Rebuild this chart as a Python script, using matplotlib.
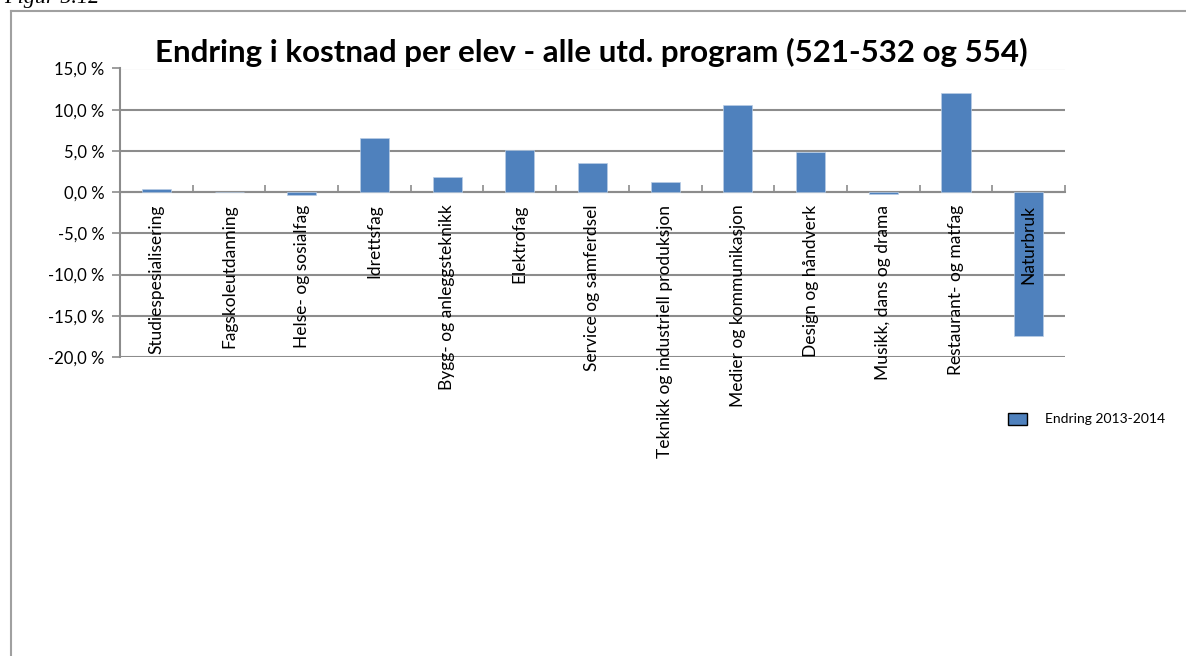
import matplotlib.pyplot as plt
import matplotlib.ticker as mticker
from matplotlib.patches import Patch
from matplotlib.lines import Line2D
import numpy as np

programs = ["Studiespesialisering", "Fagskoleutdanning", "Helse- og sosialfag",
            "Idrettsfag", "Bygg- og anleggsteknikk", "Elektrofag",
            "Service og samferdsel", "Teknikk og industriell produksjon",
            "Medier og kommunikasjon", "Design og håndverk",
            "Musikk, dans og drama", "Restaurant- og matfag", "Naturbruk"]
change = [0.4, 0.05, -0.3, 6.6, 1.8, 5.1, 3.5, 1.2, 10.6, 4.9, -0.2, 12.0, -17.4]
yticks = [-20, -15, -10, -5, 0, 5, 10, 15]

W, H = 1186, 656
plt.rcParams['font.family'] = ['Lato', 'DejaVu Sans']
fig = plt.figure(figsize=(W / 100, H / 100), dpi=100)
ax = fig.add_axes([120 / W, 1 - 357 / H, 945 / W, 288.5 / H])

grid = '#8c8c8c'
x = np.arange(len(programs))
ax.bar(x, change, width=0.4, color='#4f81bd', edgecolor='#b9cde5', linewidth=0.5,
       zorder=3)

ax.set_xlim(-0.5, len(programs) - 0.5)
ax.set_ylim(-20, 15)
ax.set_yticks(yticks)
ax.yaxis.set_major_formatter(mticker.FuncFormatter(lambda v, p: f"{v:.1f}".replace('.', ',') + " %"))
ax.grid(axis='y', color=grid, linewidth=1.5, zorder=0)
ax.tick_params(axis='y', length=6, width=1.2, color=grid, labelsize=12, pad=5)

ax.spines['bottom'].set_position(('data', 0))
for s in ['top', 'right']:
    ax.spines[s].set_visible(False)
for s in ['bottom', 'left']:
    ax.spines[s].set_color(grid)
    ax.spines[s].set_linewidth(1.5)
ax.set_xticks(x)
ax.set_xticklabels([])
ax.set_xticks(np.arange(len(programs)) + 0.5, minor=True)
ax.tick_params(axis='x', which='major', length=0)
ax.tick_params(axis='x', which='minor', direction='in', length=5, width=1.2, color=grid)

# category names hang down from the zero line, on top of the bars
for i, name in enumerate(programs):
    ax.annotate(name, (i, 0), xytext=(0, -9), textcoords='offset points',
                rotation=90, ha='center', va='top', fontsize=12.5, zorder=5)

fig.text(591 / W, 1 - 62 / H, "Endring i kostnad per elev - alle utd. program (521-532 og 554)",
         fontsize=22.5, fontweight='bold', ha='center', va='baseline')

fig.legend(handles=[Patch(facecolor='#4f81bd', edgecolor='black', linewidth=1)],
           labels=["Endring 2013-2014"], loc='center left',
           bbox_to_anchor=(995 / W, 1 - 419 / H), frameon=False, fontsize=10,
           handlelength=1.4, handleheight=1.0, handletextpad=1.3)

fig.text(4 / W, 1 - 3 / H, "Figur 5.12", family='Liberation Serif', style='italic',
         fontsize=16, va='baseline')
fig.add_artist(Line2D([10.5 / W, 10.5 / W], [0, 1 - 10.5 / H], color='#a0a0a0', lw=1.5))
fig.add_artist(Line2D([10.5 / W, 1], [1 - 10.5 / H, 1 - 10.5 / H], color='#a0a0a0', lw=1.5))

fig.savefig('out.png', dpi=100)
